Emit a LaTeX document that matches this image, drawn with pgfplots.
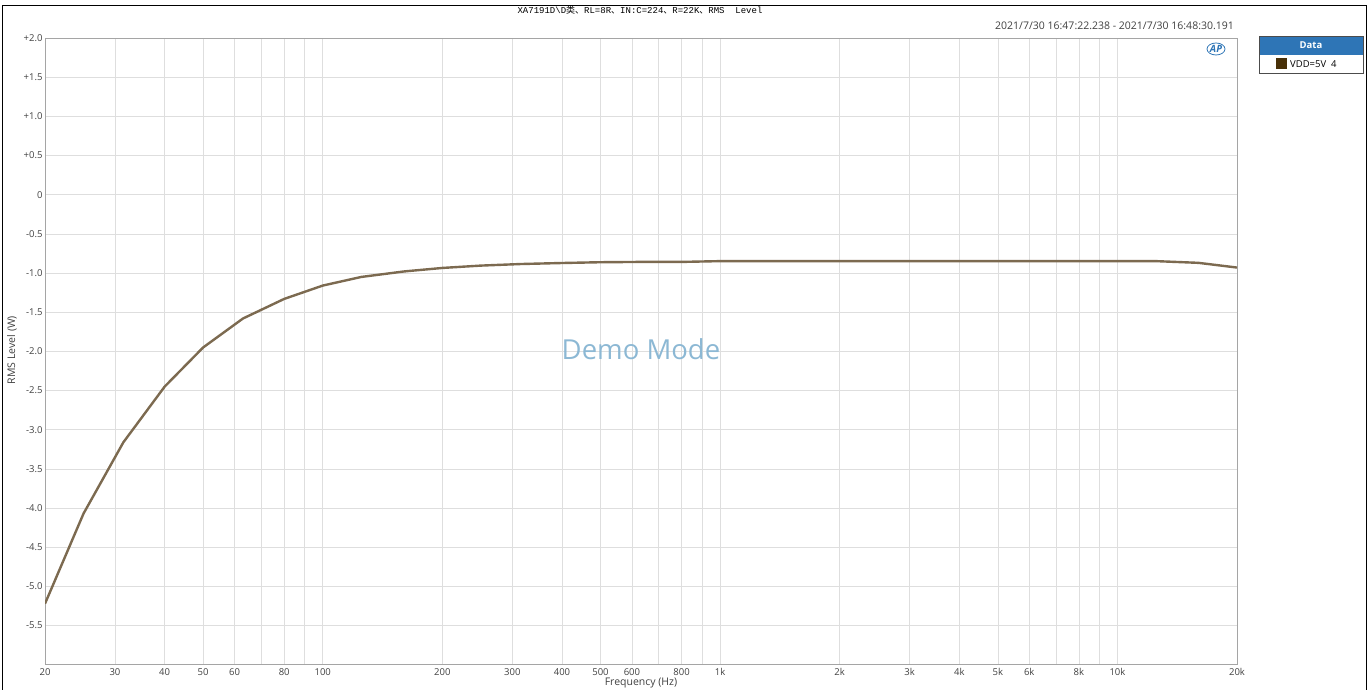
\documentclass[border=0pt]{standalone}
\usepackage{pgfplots}
\pgfplotsset{compat=1.18}
\usepackage{fontspec}
\setmainfont{Open Sans}
\newfontfamily\cjk{Noto Sans CJK SC}
\newfontfamily\mono{Liberation Mono}
\definecolor{curve}{RGB}{124,106,80}
\definecolor{swatch}{RGB}{72,48,8}
\definecolor{hdr}{RGB}{46,117,182}
\definecolor{demo}{RGB}{140,184,212}
\definecolor{gridc}{RGB}{222,222,222}
\definecolor{axc}{RGB}{165,165,165}
\begin{document}
\begin{tikzpicture}[x=1pt,y=1pt]
\path (0,0) rectangle (1371,688);
\draw[black,line width=0.8pt] (2,-2) -- (2,683) -- (1366,683) -- (1366,-2);
\begin{axis}[
  at={(45pt,24pt)}, anchor=south west,
  scale only axis, width=1192pt, height=626pt,
  xmode=log, xmin=20, xmax=20000, ymin=-5.99, ymax=2,
  xtick={20,30,40,50,60,80,100,200,300,400,500,600,800,1000,2000,3000,4000,5000,6000,8000,10000,20000},
  xticklabels={20,30,40,50,60,80,100,200,300,400,500,600,800,1k,2k,3k,4k,5k,6k,8k,10k,20k},
  minor xtick={70,90,700,900,7000,9000},
  ytick={-5.5,-5,-4.5,-4,-3.5,-3,-2.5,-2,-1.5,-1,-0.5,0,0.5,1,1.5,2},
  yticklabels={-5.5,-5.0,-4.5,-4.0,-3.5,-3.0,-2.5,-2.0,-1.5,-1.0,-0.5,0,+0.5,+1.0,+1.5,+2.0},
  xmajorgrids, xminorgrids, ymajorgrids,
  grid style={gridc, line width=0.6pt},
  minor grid style={gridc, line width=0.6pt},
  major tick length=0pt, minor tick length=0pt,
  axis line style={axc, line width=0.9pt},
  tick label style={font=\fontsize{9.5}{11}\selectfont, text=black!75},
  /pgf/number format/assume math mode=true,
  xticklabel style={yshift=-1pt},
  yticklabel style={xshift=1pt},
  clip=true,
]
\addplot[curve, line width=2.4pt, line join=round] coordinates {
(20,-5.22) (25,-4.07) (31.5,-3.16) (40,-2.45) (50,-1.95) (63,-1.58) (80,-1.33)
(100,-1.16) (125,-1.05) (160,-0.98) (200,-0.935) (250,-0.905) (315,-0.885)
(400,-0.872) (500,-0.862) (630,-0.858) (800,-0.858) (1000,-0.848) (1250,-0.848)
(1600,-0.848) (2000,-0.848) (2500,-0.848) (3150,-0.848) (4000,-0.848) (5000,-0.848)
(6300,-0.848) (8000,-0.848) (10000,-0.848) (12500,-0.848) (16000,-0.87) (20000,-0.93)
};
\end{axis}
% axis labels
\node[rotate=90, inner sep=0, text=black!75] at (12,338) {\fontsize{10.5}{12}\selectfont RMS Level (W)};
\node[inner sep=0, text=black!75] at (641,5) {\fontsize{10.5}{12}\selectfont Frequency (Hz)};
% title
\node[anchor=center, inner sep=0] at (640,678) {\fontsize{9}{10}\selectfont\mono XA7191D\textbackslash D{\cjk 类、}RL=8R{\cjk 、}IN:C=224{\cjk 、}R=22K{\cjk 、}RMS\ \ Level};
% timestamp
\node[anchor=east, inner sep=0, text=black!75] at (1234,662) {\fontsize{10.5}{12}\selectfont 2021/7/30 16:47:22.238 - 2021/7/30 16:48:30.191};
% AP logo
\node[inner sep=0, text=hdr] at (1216,639) {\fontsize{10}{10}\selectfont\bfseries\itshape AP};
\draw[hdr, line width=0.8pt] (1216,639) ellipse (9 and 6);
% Demo mode
\node[text=demo, inner sep=0] at (641,339) {\fontsize{27.5}{30}\selectfont Demo Mode};
% legend
\fill[hdr] (1259,633) rectangle (1363,652);
\node[text=white, inner sep=0] at (1311,642.5) {\fontsize{9.5}{10}\selectfont\bfseries Data};
\draw[black!70, line width=0.6pt] (1259,615) rectangle (1363,652);
\fill[swatch] (1276,618.5) rectangle (1287,629.5);
\node[anchor=west, inner sep=0] at (1290,624) {\fontsize{9.5}{10}\selectfont VDD=5V\ \ 4};
\end{tikzpicture}
\end{document}
